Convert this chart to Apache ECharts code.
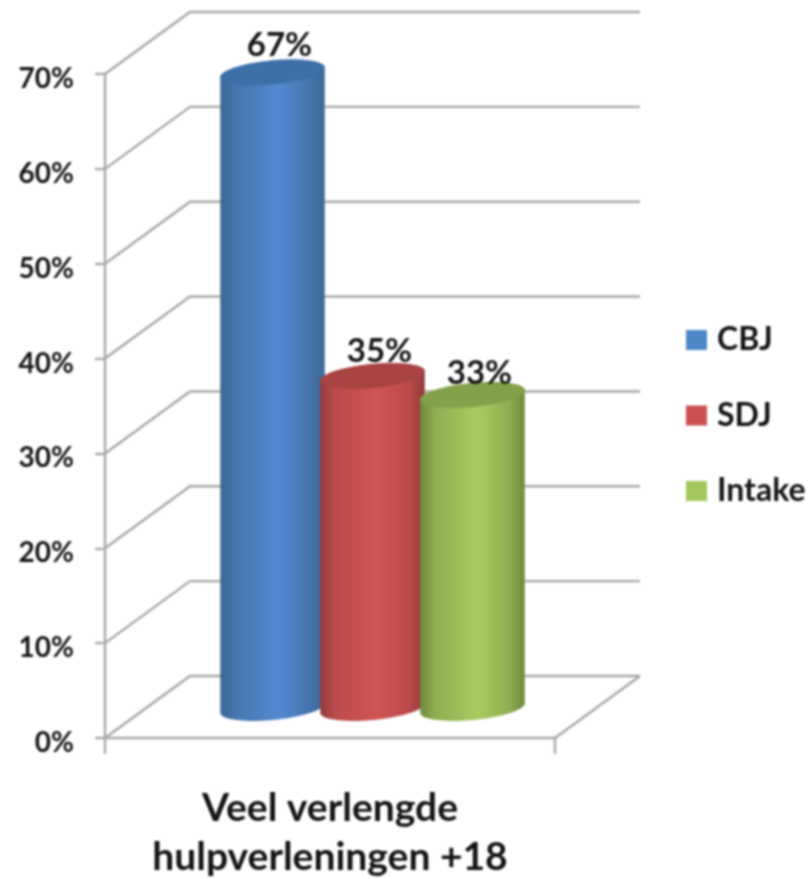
<!DOCTYPE html>
<html>
<head>
<meta charset="utf-8">
<style>
html,body{margin:0;padding:0;background:#fff;overflow:hidden}
#c{width:811px;height:879px;filter:blur(0.8px)}
</style>
<script src="https://cdn.jsdelivr.net/npm/echarts@6/dist/echarts.min.js"></script>
</head>
<body>
<div id="c"></div>
<script>
var categories = ['Veel verlengde\nhulpverleningen +18'];
var cbjValues = [67];
var sdjValues = [35];
var intakeValues = [33];
var tickValues = [0, 10, 20, 30, 40, 50, 60, 70];
var seriesNames = ['CBJ', 'SDJ', 'Intake'];

var FONT = 'Lato';
var GRID = '#a8a8a8';
var DEPTH_X = 85, DEPTH_Y = -62;
var labelNudge = [1, 4, 7];
var palettes = [
  {swatch:'#4f86c6', top:'#3d6fa9', edge:'#3c6896', side:'#4675ad', mid:'#5289d0'},
  {swatch:'#cc4f50', top:'#a84442', edge:'#8f3b3a', side:'#bb4c4c', mid:'#cf5455'},
  {swatch:'#a3c65c', top:'#83a14a', edge:'#71893f', side:'#8fae52', mid:'#a8cb60'}
];

function wallItem(params, api) {
  var cs = params.coordSys;
  var p = api.coord([0, api.value(0)]);
  var x0 = cs.x, y = p[1];
  var kids = [{
    type:'polyline',
    shape:{points:[[x0,y],[x0+DEPTH_X,y+DEPTH_Y],[cs.x+cs.width+DEPTH_X,y+DEPTH_Y]]},
    style:{stroke:GRID,lineWidth:2.4,fill:null}
  }];
  if (api.value(0) === 0) {
    kids.push({
      type:'line',
      shape:{x1:cs.x+cs.width,y1:y,x2:cs.x+cs.width+DEPTH_X,y2:y+DEPTH_Y},
      style:{stroke:GRID,lineWidth:2.4}
    });
  }
  return {type:'group',children:kids};
}

function arcPoints(cx, cy, rx, ry, tilt, from, to) {
  var pts = [], n = 40;
  for (var i = 0; i <= n; i++) {
    var a = from + (to - from) * i / n;
    var ex = rx * Math.cos(a), ey = ry * Math.sin(a);
    pts.push([cx + ex * Math.cos(tilt) - ey * Math.sin(tilt),
              cy + ex * Math.sin(tilt) + ey * Math.cos(tilt)]);
  }
  return pts;
}

function cylinder(idx) {
  return function (params, api) {
    var pal = palettes[idx];
    var top = api.coord([api.value(0), api.value(1)]);
    var base = api.coord([api.value(0), 0]);
    var cx = top[0] + DEPTH_X/2 + (idx-1)*100;
    var off = DEPTH_Y/2 + 1;
    var yt = top[1] + off, yb = base[1] + off;
    var rx = 52.5, ry = 12, tilt = -5.5*Math.PI/180;
    var side = new echarts.graphic.LinearGradient(0,0,1,0,[
      {offset:0,color:pal.edge},{offset:0.14,color:pal.side},{offset:0.55,color:pal.mid},
      {offset:0.85,color:pal.side},{offset:1,color:pal.edge}]);
    var bottomArc = arcPoints(cx, yb, rx, ry, tilt, 0, Math.PI);
    var body = arcPoints(cx, yt, rx, ry, tilt, Math.PI, 2*Math.PI).concat(bottomArc);
    var cap = arcPoints(cx, yt, rx, ry, tilt, 0, 2*Math.PI);
    return {type:'group',children:[
      {type:'polygon',shape:{points:body},style:{fill:side}},
      {type:'polygon',shape:{points:cap},style:{fill:pal.top}},
      {type:'text',x:cx+7,y:yt-ry+labelNudge[idx],style:{text:api.value(1)+'%',fill:'#141414',font:'700 33px '+FONT,align:'center',verticalAlign:'bottom'}}
    ]};
  };
}

var chart = echarts.init(document.getElementById('c'), null, {renderer:'canvas',width:811,height:879});
var valueSets = [cbjValues, sdjValues, intakeValues];
var series = [{
  type:'custom',name:'wall',silent:true,z:1,
  coordinateSystem:'cartesian2d',
  renderItem:wallItem,
  encode:{y:0},
  data:tickValues.map(function(v){return [v];}),
  clip:false
}];
seriesNames.forEach(function(name,i){
  series.push({
    type:'custom',name:name,z:2+i,
    coordinateSystem:'cartesian2d',
    renderItem:cylinder(i),
    encode:{x:0,y:1},
    itemStyle:{color:palettes[i].swatch},
    data:valueSets[i].map(function(v,k){return [k,v];}),
    clip:false
  });
});

chart.setOption({
  animation:false,
  backgroundColor:'#fff',
  grid:{left:105,top:74,width:450,height:664,containLabel:false,outerBoundsMode:'none'},
  legend:{
    data:seriesNames,orient:'vertical',left:686,top:324,
    itemWidth:21,itemHeight:20,itemGap:43.5,icon:'rect',padding:0,
    textStyle:{color:'#141414',fontFamily:FONT,fontWeight:700,fontSize:32,padding:[0,0,0,5]}
  },
  xAxis:{
    type:'category',data:categories,boundaryGap:true,
    axisLine:{lineStyle:{color:GRID,width:2.4}},
    axisTick:{show:true,length:16,alignWithLabel:false,lineStyle:{color:GRID,width:2.4}},
    axisLabel:{margin:46,color:'#141414',fontFamily:FONT,fontWeight:700,fontSize:39,lineHeight:49,interval:0}
  },
  yAxis:{
    type:'value',min:0,max:70,interval:10,
    axisLine:{show:true,lineStyle:{color:GRID,width:2.4}},
    axisTick:{show:true,length:10,lineStyle:{color:GRID,width:2.4}},
    splitLine:{show:false},
    axisLabel:{margin:31,color:'#141414',fontFamily:FONT,fontWeight:700,fontSize:28,verticalAlign:'top',lineHeight:10,formatter:'{value}%'}
  },
  series:series
});
</script>
</body>
</html>
